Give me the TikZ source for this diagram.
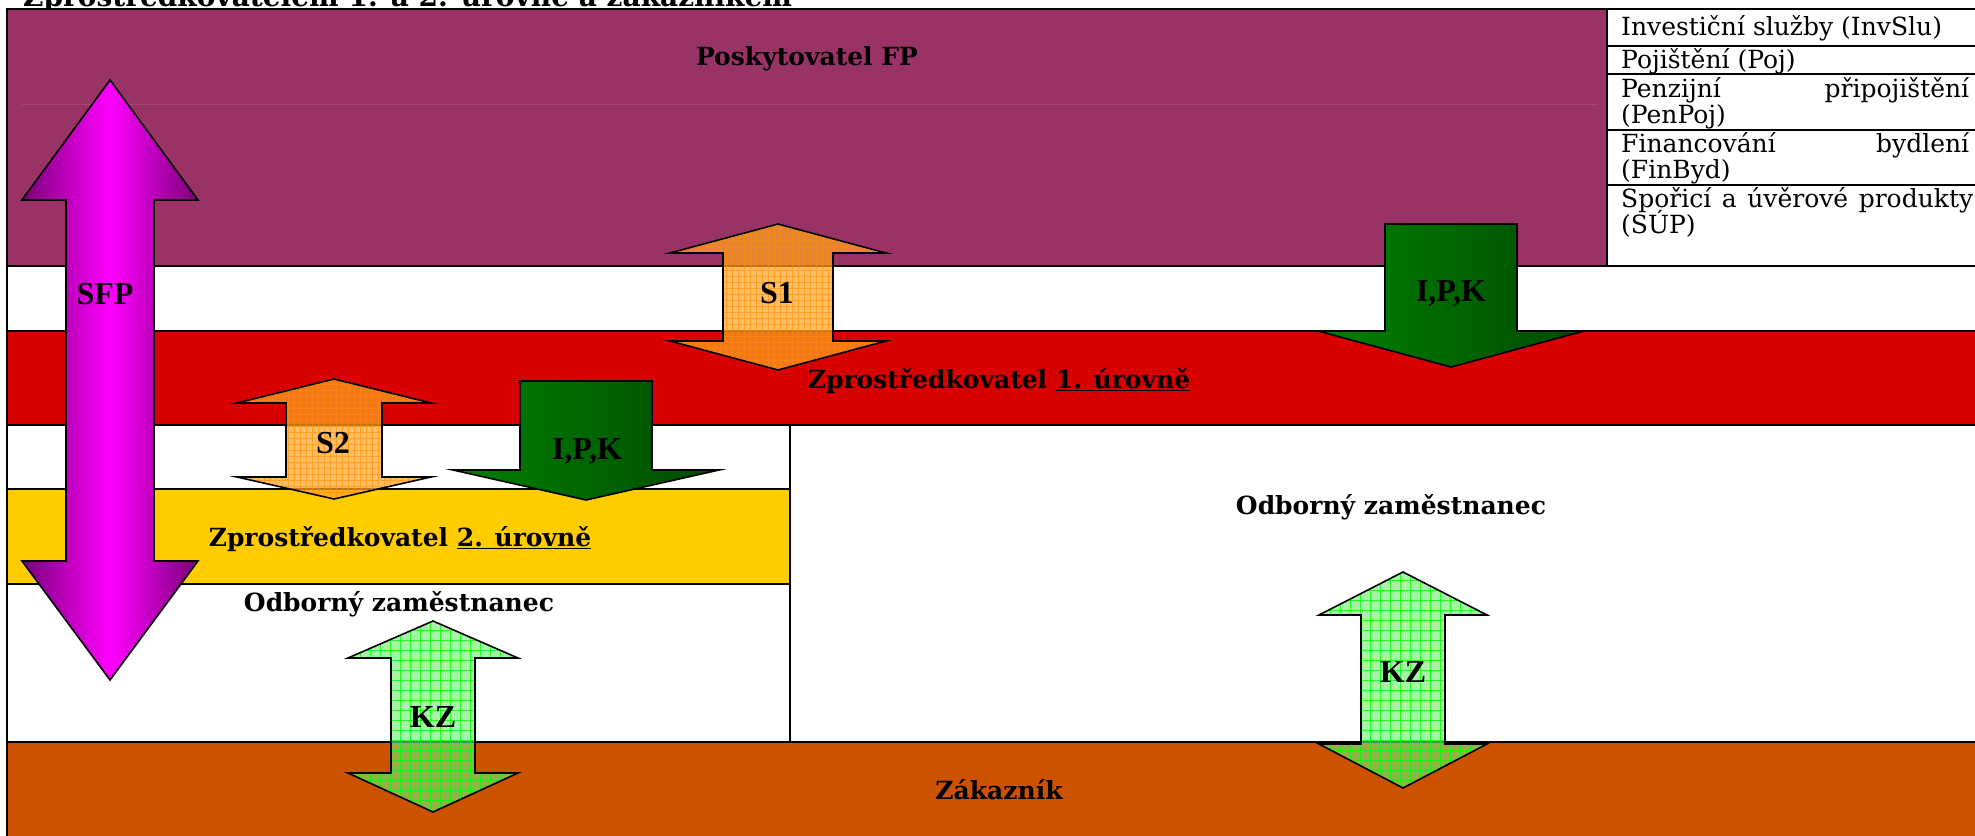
\documentclass[tikz,border=0pt]{standalone}
\usepackage{fontspec}
\setmainfont{DejaVu Serif}
\newfontfamily\labfont{Liberation Serif}
\definecolor{purp}{HTML}{993366}
\definecolor{purpline}{HTML}{A34672}
\definecolor{redband}{HTML}{D80000}
\definecolor{yelband}{HTML}{FFCC00}
\definecolor{brnband}{HTML}{CC5200}
\definecolor{sfpdark}{HTML}{7A0078}
\definecolor{sfpmid}{HTML}{FF00FF}
\definecolor{ipkl}{HTML}{008200}
\definecolor{ipkr}{HTML}{004A00}
\definecolor{sorange}{HTML}{FFA628}
\definecolor{sgrid}{HTML}{FF8C00}
\definecolor{kzfill}{HTML}{70F070}
\definecolor{kzgrid}{HTML}{00FF00}
\tikzset{
  band/.style={draw=black, line width=2.2pt},
  tline/.style={draw=black, line width=1.3pt},
  lbl/.style={font=\bfseries\fontsize{25}{29}\selectfont, inner sep=0pt, anchor=base},
  alab/.style={font=\labfont\bfseries\fontsize{32}{34}\selectfont, inner sep=0pt, anchor=base},
  tab/.style={font=\fontsize{25}{28}\selectfont, inner sep=0pt, anchor=base west},
  sfparrow/.style={draw=black, line width=1.6pt, left color=sfpdark, right color=sfpdark, middle color=sfpmid},
  ipkarrow/.style={draw=black, line width=1.6pt, left color=ipkl, right color=ipkr},
  sarrow/.style={draw=black, line width=1.6pt, fill=sorange, fill opacity=0.72,
    path picture={\draw[sgrid, line width=0.5pt, draw opacity=0.6, step=6pt] (path picture bounding box.south west) grid (path picture bounding box.north east);}},
  kzarrow/.style={draw=black, line width=1.6pt, fill=kzfill, fill opacity=0.62,
    path picture={\draw[kzgrid, line width=0.7pt, draw opacity=0.8, step=10pt] (path picture bounding box.south west) grid (path picture bounding box.north east);}}
}
\begin{document}
\begin{tikzpicture}[x=1pt,y=-1pt]
\useasboundingbox (0,0) rectangle (1975,835);
\fill[white] (0,0) rectangle (1975,835);
% title (cut off at the top)
\node[font=\bfseries\fontsize{28}{32}\selectfont, inner sep=0pt, anchor=base west] (title) at (23,6) {Zprostředkovatelem 1. a 2. úrovně a zákazníkem};
% bands
\path[band, fill=purp] (7,9) rectangle (1607,266);
\draw[purpline, line width=0.8pt] (22,104) -- (1598,104);
\path[band, fill=white] (7,266) rectangle (1985,331);
\path[band, fill=redband] (7,331) rectangle (1985,425);
\path[band, fill=white] (7,425) rectangle (1985,742);
\path[band, fill=yelband] (7,489) rectangle (790,584);
\draw[band] (790,425) -- (790,742);
\path[band, fill=brnband] (7,742) rectangle (1985,845);
% table
\draw[tline] (1607,9) -- (1985,9);
\draw[tline] (1607,46) -- (1985,46);
\draw[tline] (1607,74) -- (1985,74);
\draw[tline] (1607,130) -- (1985,130);
\draw[tline] (1607,185) -- (1985,185);
\draw[band] (1607,9) -- (1607,266);
\node[tab] (t1) at (1621,35) {Investiční služby (InvSlu)};
\node[tab] (t2) at (1621,68) {Pojištění (Poj)};
\node[tab] (t3) at (1621,97) {\makebox[348pt][s]{Penzijní připojištění}};
\node[tab] (t3b) at (1621,123) {(PenPoj)};
\node[tab] (t4) at (1621,152) {\makebox[348pt][s]{Financování bydlení}};
\node[tab] (t4b) at (1621,178) {(FinByd)};
\node[tab] (t5) at (1621,207) {\makebox[352pt][s]{Spořicí a úvěrové produkty}};
\node[tab] (t5b) at (1621,233) {(SÚP)};
% band labels
\node[lbl] (posk) at (807,65) {Poskytovatel FP};
\node[lbl] (zpr1) at (999,388) {Zprostředkovatel \underline{1. úrovně}};
\node[lbl] (zpr2) at (400,546) {Zprostředkovatel \underline{2. úrovně}};
\node[lbl] (odb1) at (399,611) {Odborný zaměstnanec};
\node[lbl] (odb2) at (1391,514) {Odborný zaměstnanec};
\node[lbl] (zak) at (999,799) {Zákazník};
% arrows
\path[sfparrow] (110,80) -- (198,200) -- (154,200) -- (154,561) -- (198,561) -- (110,680) -- (22,561) -- (66,561) -- (66,200) -- (22,200) -- cycle;
\path[sarrow] (778,224) -- (886,253) -- (833,253) -- (833,341) -- (886,341) -- (778,370) -- (670,341) -- (723,341) -- (723,253) -- (670,253) -- cycle;
\path[sarrow] (334,379) -- (431,403) -- (382,403) -- (382,477) -- (431,477) -- (334,499) -- (237,477) -- (286,477) -- (286,403) -- (237,403) -- cycle;
\path[ipkarrow] (1385,224) -- (1517,224) -- (1517,331) -- (1584,331) -- (1451,367) -- (1318,331) -- (1385,331) -- cycle;
\path[ipkarrow] (520,381) -- (652,381) -- (652,470) -- (719,470) -- (586,500) -- (453,470) -- (520,470) -- cycle;
\path[kzarrow] (433,621) -- (518,658) -- (475,658) -- (475,773) -- (518,773) -- (433,812) -- (348,773) -- (391,773) -- (391,658) -- (348,658) -- cycle;
\path[kzarrow] (1403,572) -- (1487,615) -- (1445,615) -- (1445,744) -- (1487,744) -- (1403,788) -- (1319,744) -- (1361,744) -- (1361,615) -- (1319,615) -- cycle;
% arrow labels
\node[alab] (sfp) at (105,304) {SFP};
\node[alab] (s1) at (777,303) {S1};
\node[alab] (s2) at (333,453) {S2};
\node[alab] (ipk1) at (1451,301) {I,P,K};
\node[alab] (ipk2) at (587,459) {I,P,K};
\node[alab] (kz1) at (433,727) {KZ};
\node[alab] (kz2) at (1403,682) {KZ};
\end{tikzpicture}
\end{document}
